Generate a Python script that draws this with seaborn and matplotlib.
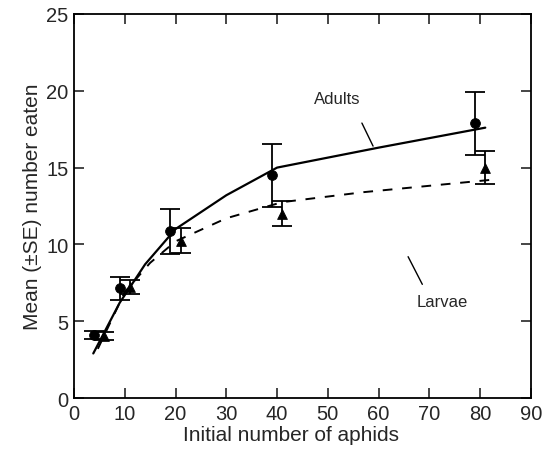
# Functional response of adults vs larvae
import numpy as np
import pandas as pd
import matplotlib
matplotlib.use("Agg")
import matplotlib.pyplot as plt
import seaborn as sns

# observed means (x offset slightly so bars don't overlap)
adult_x = [4, 9, 19, 39, 79]
adult_y = [4.1, 7.15, 10.85, 14.5, 17.9]
adult_se = [0.25, 0.75, 1.45, 2.05, 2.05]

larvae_x = [6, 11, 21, 41, 81]
larvae_y = [4.05, 7.25, 10.25, 12.0, 15.0]
larvae_se = [0.25, 0.45, 0.8, 0.8, 1.1]

# fitted curves
adult_fit_x = [3.8, 9, 14, 20, 30, 40, 60, 81]
adult_fit_y = [2.9, 6.2, 8.7, 11.0, 13.2, 15.0, 16.3, 17.6]
larvae_fit_x = [4.7, 10, 15, 20, 25, 30, 41, 57, 82]
larvae_fit_y = [3.2, 6.9, 8.8, 10.2, 10.95, 11.7, 12.75, 13.4, 14.2]

sns.set_style("ticks")
plt.rcParams["font.family"] = ["Liberation Sans", "DejaVu Sans"]

fig = plt.figure(figsize=(5.46, 4.6), dpi=100)
ax = fig.add_axes([0.1355, 0.1326, 0.8370, 0.8348])

fits = pd.DataFrame({"x": adult_fit_x, "y": adult_fit_y})
sns.lineplot(data=fits, x="x", y="y", color="black", lw=1.6, ax=ax)
fitl = pd.DataFrame({"x": larvae_fit_x, "y": larvae_fit_y})
sns.lineplot(data=fitl, x="x", y="y", color="black", lw=1.4, ax=ax,
             linestyle=(0, (5, 5)))

ax.errorbar(adult_x, adult_y, yerr=adult_se, fmt="none", ecolor="black",
            elinewidth=1.3, capsize=7.5, capthick=1.3)
ax.errorbar(larvae_x, larvae_y, yerr=larvae_se, fmt="none", ecolor="black",
            elinewidth=1.3, capsize=7.5, capthick=1.3)
sns.scatterplot(x=adult_x, y=adult_y, marker="o", s=50, color="black",
                edgecolor="black", ax=ax, zorder=5)
sns.scatterplot(x=larvae_x, y=larvae_y, marker="^", s=50, color="black",
                edgecolor="black", ax=ax, zorder=5)

# labels with leader lines
ax.text(51.8, 19.5, "Adults", fontsize=12, ha="center", va="center")
ax.plot([56.7, 58.9], [17.9, 16.4], color="black", lw=1)
ax.text(72.5, 6.3, "Larvae", fontsize=12, ha="center", va="center")
ax.plot([65.8, 68.6], [9.2, 7.4], color="black", lw=1)

ax.set_xlim(0, 90)
ax.set_ylim(0, 25)
ax.set_xticks(np.arange(0, 91, 10))
ax.set_yticks(np.arange(0, 26, 5))
ax.tick_params(direction="in", top=True, right=True, length=7, width=1.2,
               labelsize=14.5, pad=4)
for s in ax.spines.values():
    s.set_linewidth(1.3)
    s.set_color("black")
ax.set_xlabel("Initial number of aphids", fontsize=15, labelpad=2, x=0.475)
ax.set_ylabel("Mean (\u00b1SE) number eaten", fontsize=15, labelpad=3)

plt.savefig("out.png", dpi=100)
